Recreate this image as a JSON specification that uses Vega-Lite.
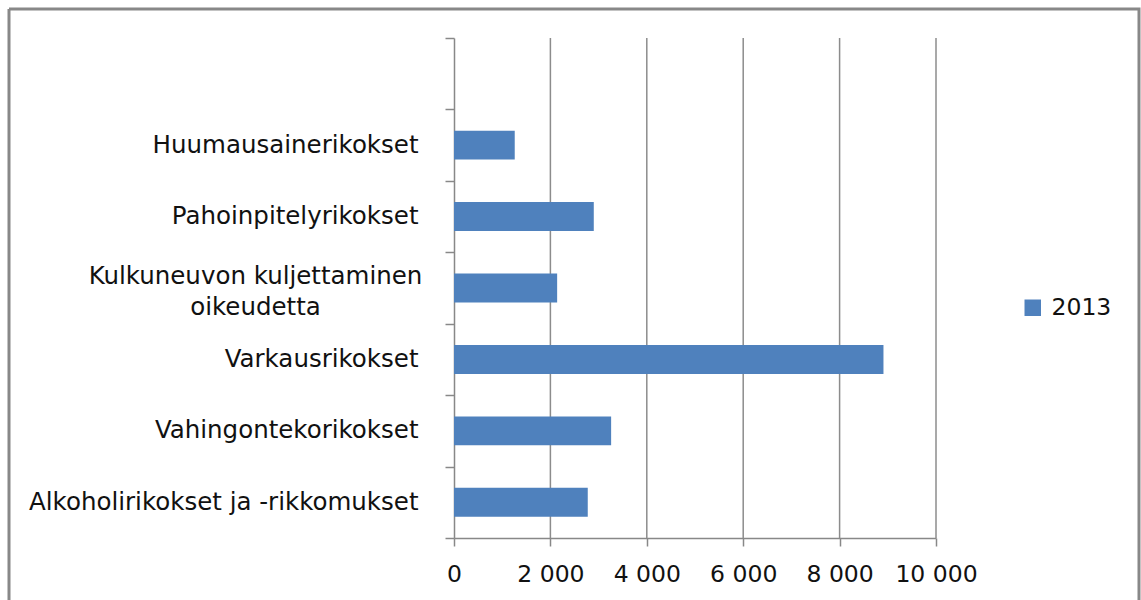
{
  "$schema": "https://vega.github.io/schema/vega-lite/v6.json",
  "autosize": {"type": "none"},
  "padding": {"left": 9, "top": 9, "right": 2, "bottom": 0},
  "width": 1130,
  "height": 591,
  "background": "#ffffff",
  "config": {
    "font": "DejaVu Sans",
    "view": {"stroke": "#888888", "strokeWidth": 3, "strokeDash": [1721, 1130, 591, 0]},
    "axisX": {
      "title": null,
      "offset": -62,
      "labelExpr": "replace(format(datum.value, ','), ',', ' ')",
      "domainColor": "#888888",
      "domainWidth": 1.5,
      "tickColor": "#888888",
      "tickWidth": 1.5,
      "tickSize": 8,
      "grid": false,
      "labelFont": "DejaVu Sans",
      "labelFontSize": 23.5,
      "labelColor": "#111111",
      "labelPadding": 16,
      "labelFlush": false
    }
  },
  "datasets": {
    "rikokset": [
      {"rikos": "Huumausainerikokset", "vuosi": "2013", "maara": 1260},
      {"rikos": "Pahoinpitelyrikokset", "vuosi": "2013", "maara": 2900},
      {"rikos": "Kulkuneuvon kuljettaminen oikeudetta", "vuosi": "2013", "maara": 2140},
      {"rikos": "Varkausrikokset", "vuosi": "2013", "maara": 8910},
      {"rikos": "Vahingontekorikokset", "vuosi": "2013", "maara": 3260},
      {"rikos": "Alkoholirikokset ja -rikkomukset", "vuosi": "2013", "maara": 2775}
    ],
    "ruudukko": [
      {"maara": 2000, "ala": 0, "yla": 1},
      {"maara": 4000, "ala": 0, "yla": 1},
      {"maara": 6000, "ala": 0, "yla": 1},
      {"maara": 8000, "ala": 0, "yla": 1},
      {"maara": 10000, "ala": 0, "yla": 1}
    ]
  },
  "resolve": {"scale": {"y": "independent"}, "axis": {"y": "independent"}},
  "layer": [
    {
      "data": {"name": "ruudukko"},
      "mark": {"type": "rule", "color": "#8c8c8c", "strokeWidth": 1.5},
      "encoding": {
        "x": {"field": "maara", "type": "quantitative", "scale": {"domain": [0, 10000], "range": [445, 927], "nice": false, "zero": true}, "axis": {"title": null, "values": [0, 2000, 4000, 6000, 8000, 10000]}},
        "y": {"field": "ala", "type": "quantitative", "scale": {"domain": [0, 1], "range": [529, 29], "nice": false}, "axis": null},
        "y2": {"field": "yla"}
      }
    },
    {
      "data": {"name": "rikokset"},
      "mark": {"type": "bar", "height": {"band": 0.405}},
      "encoding": {
        "y": {
          "field": "rikos",
          "type": "nominal",
          "scale": {
            "domain": [" ", "Huumausainerikokset", "Pahoinpitelyrikokset", "Kulkuneuvon kuljettaminen oikeudetta", "Varkausrikokset", "Vahingontekorikokset", "Alkoholirikokset ja -rikkomukset"],
            "range": [29, 529],
            "paddingInner": 0,
            "paddingOuter": 0
          },
          "axis": {
            "title": null,
            "offset": -445,
            "domainColor": "#888888",
            "domainWidth": 1.5,
            "tickColor": "#888888",
            "tickWidth": 1.5,
            "tickSize": 9,
            "tickBand": "extent",
            "grid": false,
            "labelFont": "DejaVu Sans",
            "labelFontSize": 24.5,
            "labelColor": "#111111",
            "labelPadding": {"condition": {"test": "datum.label == 'Kulkuneuvon kuljettaminen oikeudetta'", "value": 190}, "value": 27},
            "labelAlign": {"condition": {"test": "datum.label == 'Kulkuneuvon kuljettaminen oikeudetta'", "value": "center"}, "value": "right"},
            "labelLimit": 500,
            "labelLineHeight": 31,
            "labelOffset": {"condition": {"test": "datum.label == 'Kulkuneuvon kuljettaminen oikeudetta'", "value": -12}, "value": 0},
            "labelExpr": "datum.label == 'Kulkuneuvon kuljettaminen oikeudetta' ? ['Kulkuneuvon kuljettaminen', 'oikeudetta'] : datum.label"
          }
        },
        "x": {
          "field": "maara",
          "type": "quantitative",
          "scale": {"domain": [0, 10000], "range": [445, 927], "nice": false, "zero": true},
          "axis": {"title": null, "values": [0, 2000, 4000, 6000, 8000, 10000]}
        },
        "color": {
          "field": "vuosi",
          "type": "nominal",
          "scale": {"range": ["#4F81BD"]},
          "legend": {
            "title": null,
            "orient": "none",
            "legendX": 1012,
            "legendY": 287,
            "padding": 0,
            "symbolType": "square",
            "symbolSize": 272,
            "symbolStrokeWidth": 0,
            "labelFont": "DejaVu Sans",
            "labelFontSize": 23.5,
            "labelColor": "#111111",
            "labelOffset": 7
          }
        }
      }
    }
  ]
}
